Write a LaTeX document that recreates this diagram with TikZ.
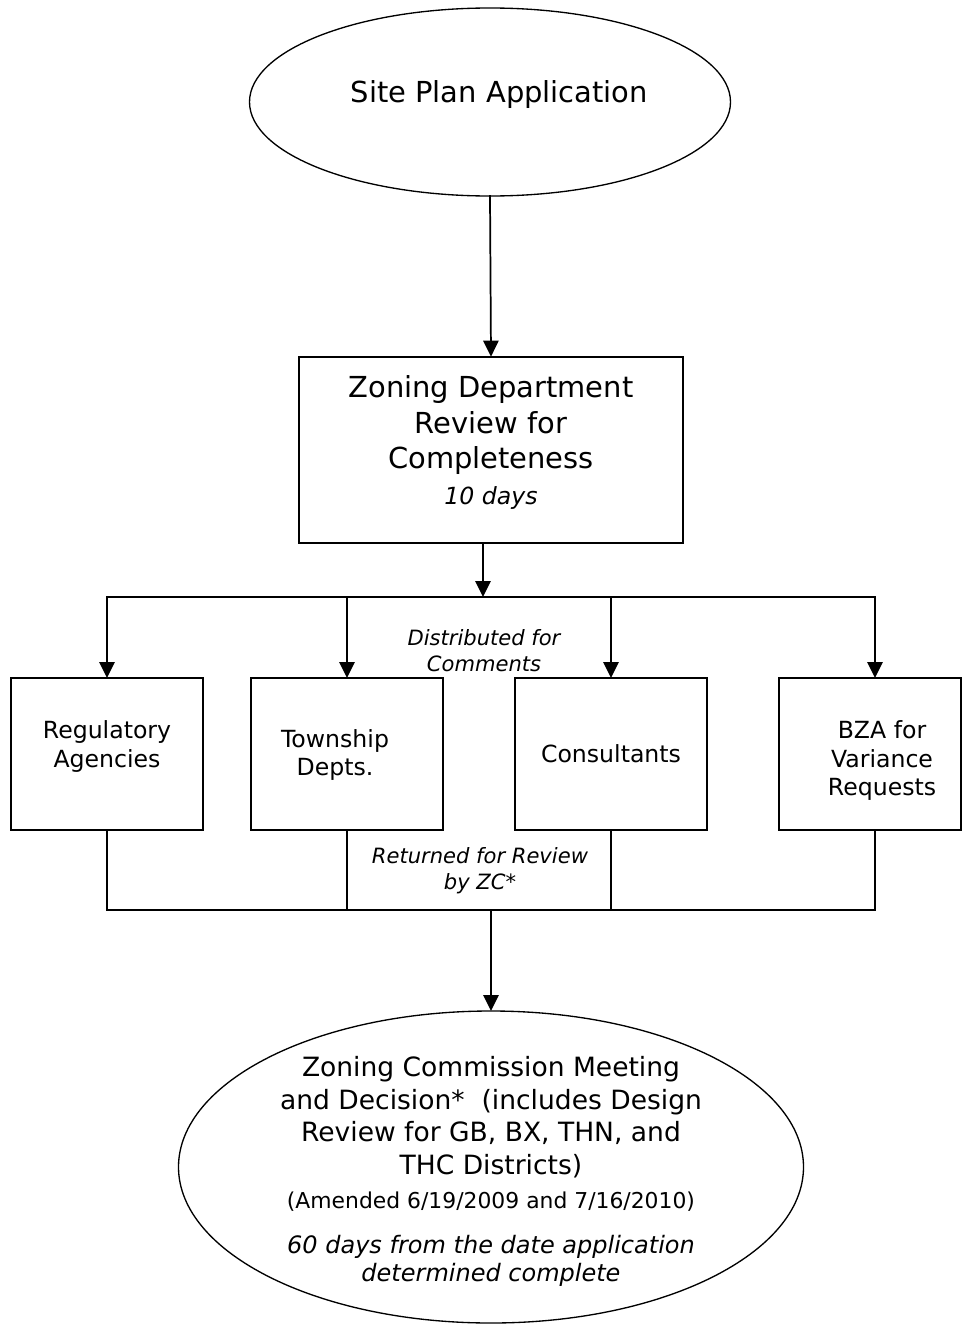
\documentclass[tikz,border=0pt]{standalone}
\usepackage{fontspec}
\setmainfont{DejaVu Sans}
\usetikzlibrary{shapes.geometric,arrows.meta}

\newcommand\bigtxt{\fontsize{21.7}{26.6}\selectfont}
\newcommand\midtxt{\fontsize{17.7}{21.4}\selectfont}
\newcommand\smalltxt{\fontsize{15.8}{19.5}\selectfont}
\newcommand\zctxt{\fontsize{19.9}{24.4}\selectfont}
% text block moved by (#1,#2) inside its shape
\newcommand\lifted[3]{\kern#1\raisebox{#2}[\height][\depth]{\begin{tabular}{@{}c@{}}#3\end{tabular}}\kern-#1}

\begin{document}
\begin{tikzpicture}[x=0.75pt,y=-0.75pt,line width=1.3pt,line cap=rect,
  arr/.style={-{Triangle[length=12pt,width=11.5pt]}},
  oval/.style={ellipse,draw,line width=1pt,inner sep=0pt,outer sep=0pt},
  zbox/.style={rectangle,draw,inner sep=0pt,outer sep=0pt},
  dept/.style={zbox,minimum width=144pt,minimum height=114pt,font=\midtxt},
  note/.style={inner sep=0pt,align=center,font=\smalltxt\itshape}]

  \useasboundingbox (0,0) rectangle (962,1324);

  \node[oval,minimum width=360.75pt,minimum height=141pt,font=\bigtxt] (app) at (490,102)
    {\lifted{7pt}{5pt}{Site Plan Application}};
  \node[zbox,minimum width=288pt,minimum height=140pt,font=\bigtxt] (rev) at (491,450)
    {\lifted{0pt}{4.5pt}{Zoning Department\\Review for\\Completeness\\{\midtxt\itshape 10 days}}};

  \node[dept] (reg) at (107,754) {\lifted{0pt}{5pt}{Regulatory\\Agencies}};
  \node[dept] (twp) at (347,754) {\lifted{-9pt}{-1.5pt}{Township\\Depts.}};
  \node[dept] (con) at (611,754) {Consultants};
  \node[dept,minimum width=136.5pt] (bza) at (870,754) {\lifted{9pt}{-5.5pt}{BZA for\\Variance\\Requests}};

  \node[note] (dist) at (484,651) {Distributed for\\Comments};
  \node[note] (back) at (480,871) {Returned for Review\\by ZC*};

  \node[oval,minimum width=468.75pt,minimum height=234pt,inner sep=-10pt,font=\zctxt] (zc) at (491,1167)
    {\lifted{0pt}{-4pt}{Zoning Commission Meeting\\and Decision*\ \ (includes Design\\Review for GB, BX, THN, and\\THC Districts)\\[1pt]
     {\fontsize{16.4}{19.7}\selectfont (Amended 6/19/2009 and 7/16/2010)}\\[10pt]
     {\fontsize{18}{21}\selectfont\itshape 60 days from the date application}\\[-4pt]
     {\fontsize{18}{21}\selectfont\itshape determined complete}}};

  \coordinate (top) at (483,597);
  \coordinate (bot) at (491,910);
  \coordinate (bzain) at ([xshift=3.75pt]bza.north);
  \coordinate (bzaout) at ([xshift=3.75pt]bza.south);

  \draw[arr] (app.south) -- (rev.north);
  \draw[arr] (rev.south -| top) -- (top);
  \draw (reg.north |- top) -- (bzain |- top);
  \foreach \d in {reg,twp,con}
    \draw[arr] (\d.north |- top) -- (\d.north);
  \draw[arr] (bzain |- top) -- (bzain);

  \foreach \d in {reg,twp,con}
    \draw (\d.south) -- (\d.south |- bot);
  \draw (bzaout) -- (bzaout |- bot);
  \draw (reg.south |- bot) -- (bzaout |- bot);
  \draw[arr] (bot) -- (zc.north);
\end{tikzpicture}
\end{document}
